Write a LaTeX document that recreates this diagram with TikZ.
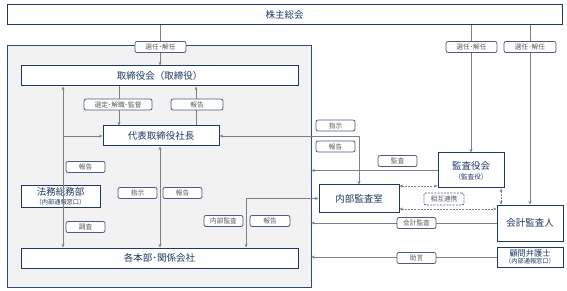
\documentclass[tikz,border=0pt]{standalone}
\usepackage{fontspec}
\setmainfont{Noto Sans CJK JP}
\usetikzlibrary{arrows.meta}
\definecolor{navy}{HTML}{1F3864}
\definecolor{lblc}{HTML}{4A5D7E}
\definecolor{lbltxt}{HTML}{595959}
\definecolor{linec}{HTML}{808080}
\definecolor{contfill}{HTML}{F2F2F2}
\definecolor{contdraw}{HTML}{2F4B7C}
\tikzset{
  box/.style={draw=navy, line width=1pt, fill=white, text=navy, inner sep=0pt,
    font=\fontsize{9.5}{11}\selectfont, align=center},
  lbl/.style={draw=lblc, line width=0.8pt, rounded corners=2pt, fill=white, text=lbltxt,
    inner sep=0pt, minimum height=11pt, font=\fontsize{6.7}{7}\selectfont},
  dlbl/.style={lbl, dashed, dash pattern=on 2pt off 1.2pt, minimum height=12pt},
  con/.style={draw=linec, line width=0.9pt},
  arr/.style={-{Stealth[length=3.5pt,width=3pt]}},
  barr/.style={{Stealth[length=3.5pt,width=3pt]}-{Stealth[length=3.5pt,width=3pt]}},
  dcon/.style={con, dash pattern=on 2pt off 1.2pt},
}
\begin{document}
\begin{tikzpicture}[x=1pt,y=-1pt]
\useasboundingbox (0,0) rectangle (567,291);
% container
\node[draw=contdraw, line width=0.8pt, fill=contfill, minimum width=304pt, minimum height=242pt, inner sep=0pt] (cont) at (159,166) {};
% main boxes
\node[box, minimum width=555pt, minimum height=20pt] (kabu) at (284.5,15) {株主総会};
\node[box, minimum width=277pt, minimum height=20pt] (tori) at (159.5,76) {取締役会（取締役）};
\node[box, minimum width=116pt, minimum height=20pt] (daihyo) at (161,136) {代表取締役社長};
\node[box, minimum width=79pt, minimum height=21pt] (houmu) at (60.5,196.5) {法務総務部\\[-2.5pt]{\fontsize{6.2}{7}\selectfont （内部通報窓口）}};
\node[box, minimum width=277pt, minimum height=20pt] (kaku) at (159.5,258) {各本部･関係会社};
\node[box, minimum width=80pt, minimum height=27pt] (naibu) at (359,198.5) {内部監査室};
\node[box, minimum width=66pt, minimum height=35pt] (kansa) at (471,170.5) {監査役会\\[-1pt]{\fontsize{6.6}{7}\selectfont （監査役）}};
\node[box, minimum width=66pt, minimum height=36pt] (kaikei) at (530,223) {会計監査人};
\node[box, minimum width=66pt, minimum height=20pt, font=\fontsize{8.2}{9}\selectfont] (komon) at (530,257) {顧問弁護士\\[-2.5pt]{\fontsize{6.2}{7}\selectfont （内部通報窓口）}};
% helper coordinates
\coordinate (xA) at (160,0);
\coordinate (xB) at (119,0);
\coordinate (xC) at (196,0);
\coordinate (xL) at (63,0);
\coordinate (xM) at (246,0);
\coordinate (yD1) at (0,186);
\coordinate (yD2) at (0,209);
\coordinate (xD) at (501,0);
% connectors
\draw[con,arr] (kabu.south -| xA) -- (tori.north -| xA);
\draw[con,arr] (tori.south -| xB) -- (daihyo.north -| xB);
\draw[con,arr] (daihyo.north -| xC) -- (tori.south -| xC);
\draw[con,barr] (tori.south -| xL) -- (kaku.north -| xL);
\draw[con,arr] (xL |- daihyo.west) -- (daihyo.west);
\draw[con,barr] (daihyo.south -| xA) -- (kaku.north -| xA);
\draw[con,barr] (naibu.north) |- (daihyo.east);
\draw[con,barr] (naibu.west) -| (kaku.north -| xM);
\draw[con,arr] (kabu.south -| kansa.north) -- (kansa.north);
\draw[con,arr] (kabu.south -| kaikei.north) -- (kaikei.north);
\draw[con,arr] (kansa.west) -- (kansa.west -| cont.east);
\draw[con,arr] (kaikei.west) -- (kaikei.west -| cont.east);
\draw[con,arr] (komon.west) -- (komon.west -| cont.east);
\draw[dcon,barr] (naibu.east |- yD1) -- (kansa.west |- yD1);
\draw[dcon,barr] (naibu.east |- yD2) -- (kaikei.west |- yD2);
\draw[dcon,barr] (kansa.south -| xD) -- (kaikei.north -| xD);
% labels
\node[lbl, minimum width=51pt] (l1) at (160.5,47) {選任･解任};
\node[lbl, minimum width=51pt] (l2) at (471.5,47) {選任･解任};
\node[lbl, minimum width=52pt] (l3) at (530,47) {選任･解任};
\node[lbl, minimum width=68pt] (l4) at (118,104.5) {選定･解職･監督};
\node[lbl, minimum width=52pt] (l5) at (197,104.5) {報告};
\node[lbl, minimum width=39pt] (l6) at (85.5,167) {報告};
\node[lbl, minimum width=39pt] (l7) at (85.5,227) {調査};
\node[lbl, minimum width=39pt] (l8) at (137.5,193) {指示};
\node[lbl, minimum width=39pt] (l9) at (182.5,193) {報告};
\node[lbl, minimum width=39pt] (l10) at (335.5,125.5) {指示};
\node[lbl, minimum width=39pt] (l11) at (335.5,146.5) {報告};
\node[lbl, minimum width=39pt] (l12) at (223.5,221) {内部監査};
\node[lbl, minimum width=40pt] (l13) at (270,221) {報告};
\node[lbl, minimum width=39pt] (l14) at (397.5,161) {監査};
\node[lbl, minimum width=39pt] (l15) at (416.5,223) {会計監査};
\node[lbl, minimum width=39pt] (l16) at (416.5,258) {助言};
\node[dlbl, minimum width=40pt] (l17) at (444,199) {相互連携};
\end{tikzpicture}
\end{document}
